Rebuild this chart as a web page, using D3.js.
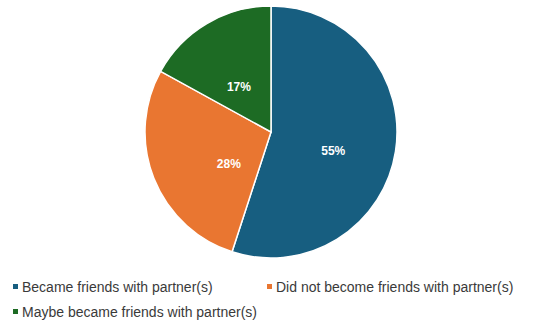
<!DOCTYPE html>
<html><head><meta charset="utf-8">
<script src="https://cdn.jsdelivr.net/npm/d3@7"></script>
<style>body{margin:0;background:#fff}svg{display:block}</style>
</head><body>
<svg id="c" width="548" height="326"></svg>
<script>
const categories = ["Became friends with partner(s)", "Did not become friends with partner(s)", "Maybe became friends with partner(s)"];
const values = [55, 28, 17];
const colors = ["#175e80", "#e97631", "#1d6b24"];

const svg = d3.select("#c");
const cx = 271, cy = 132, r = 126;
const pie = d3.pie().sort(null).value(d => d)(values);
const arc = d3.arc().innerRadius(0).outerRadius(r);
const labelArc = d3.arc().innerRadius(0).outerRadius(r);
const g = svg.append("g").attr("transform", `translate(${cx},${cy})`);
g.selectAll("path").data(pie).join("path")
  .attr("d", arc).attr("fill", (d, i) => colors[i])
  .attr("stroke", "#fff").attr("stroke-width", 1.5);
g.selectAll("text").data(pie).join("text")
  .attr("transform", (d, i) => {
    const c = labelArc.centroid(d);
    const x = i === 1 ? c[0] * 0.72 : c[0];
    return `translate(${x},${c[1] + 9})`;
  })
  .attr("text-anchor", "middle").attr("dominant-baseline", "central")
  .attr("fill", "#fff").attr("font-family", "Liberation Sans, Arial, sans-serif")
  .attr("font-weight", "bold").attr("font-size", 12)
  .text(d => d.data + "%");

const legendPos = [[13, 287], [267, 287], [13, 312]];
const lg = svg.append("g").selectAll("g").data(categories).join("g")
  .attr("transform", (d, i) => `translate(${legendPos[i][0]},${legendPos[i][1]})`);
lg.append("rect").attr("x", 0).attr("y", -3).attr("width", 5).attr("height", 5)
  .attr("fill", (d, i) => colors[i]);
lg.append("text").attr("x", 9).attr("y", 0).attr("dominant-baseline", "central")
  .attr("font-family", "Liberation Sans, Arial, sans-serif").attr("font-size", 14)
  .attr("fill", "#3a3a3a").text(d => d);
</script>
</body></html>
